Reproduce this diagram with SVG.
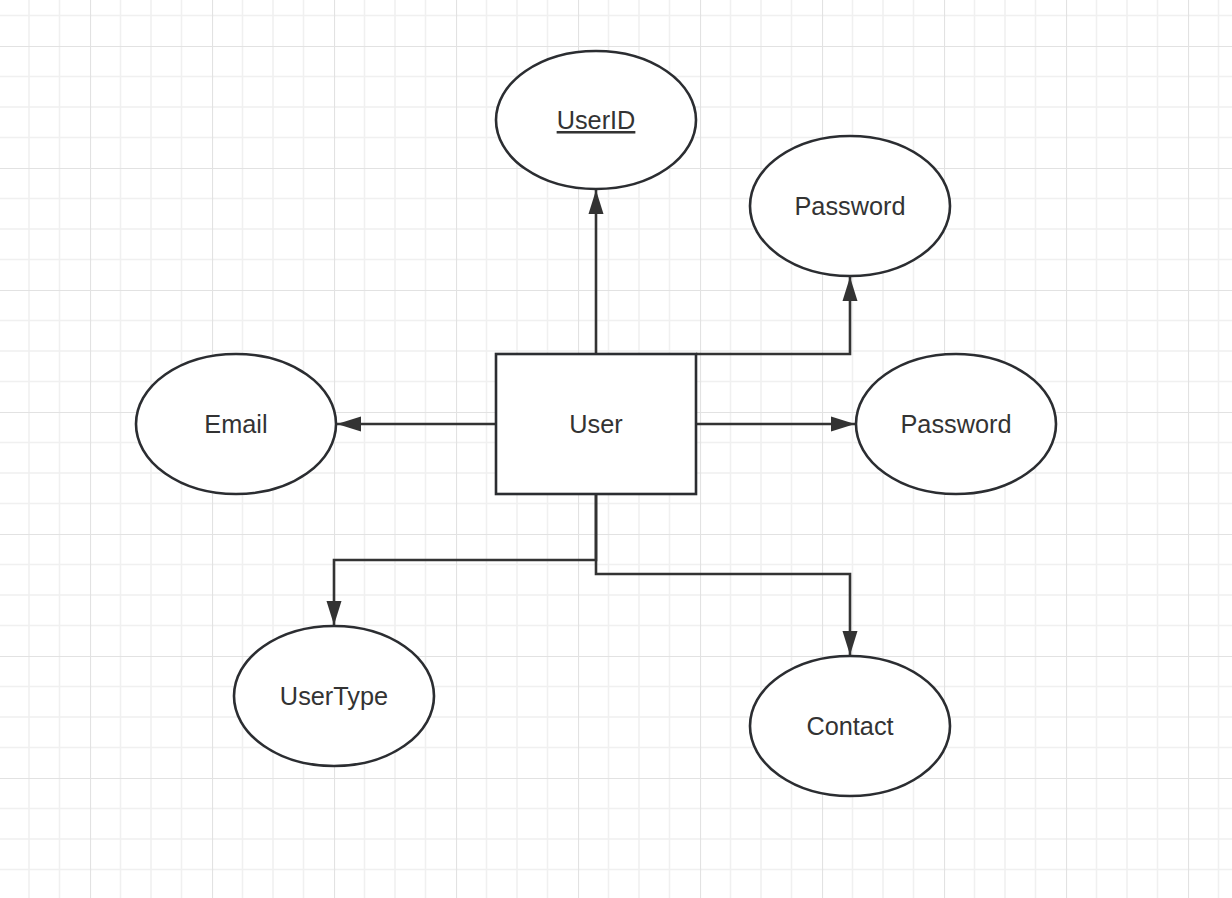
<svg xmlns="http://www.w3.org/2000/svg" width="1232" height="898" viewBox="0 0 1232 898">
<defs>
<pattern id="grid" x="90" y="46" width="122" height="122" patternUnits="userSpaceOnUse">
<path d="M30.5 0V122M61 0V122M91.5 0V122M0 30.5H122M0 61H122M0 91.5H122" stroke="#f0f0f0" stroke-width="1.6" fill="none"/>
<path d="M0 0V122M0 0H122" stroke="#e2e2e2" stroke-width="2.2" fill="none"/>
</pattern>
<marker id="arr" markerWidth="26" markerHeight="18" refX="24" refY="9" orient="auto" markerUnits="userSpaceOnUse">
<path d="M0 1.5L24 9L0 16.5z" fill="#333"/>
</marker>
<style>
.ent{fill:#fff;stroke:#2b2d31;stroke-width:2.6}
.conn{fill:none;stroke:#333;stroke-width:2.6;marker-end:url(#arr)}
.lbl{font-family:"Liberation Sans",Arial,sans-serif;font-size:25.3px;fill:#333;text-anchor:middle}
</style>
</defs>
<rect width="1232" height="898" fill="#fff"/>
<rect width="1232" height="898" fill="url(#grid)"/>
<g id="connectors">
<path class="conn" d="M596 354V190"/>
<path class="conn" d="M696 354H850V277"/>
<path class="conn" d="M496 424H337"/>
<path class="conn" d="M696 424H855"/>
<path class="conn" d="M596 494V560H334V625"/>
<path class="conn" d="M596 494V574H850V655"/>
</g>
<g id="user">
<rect class="ent" x="496" y="354" width="200" height="140"/>
<text class="lbl" x="596" y="433">User</text>
</g>
<g id="userid">
<ellipse class="ent" cx="596" cy="120" rx="100" ry="69"/>
<text class="lbl" x="596" y="129" text-decoration="underline">UserID</text>
</g>
<g id="password-top">
<ellipse class="ent" cx="850" cy="206" rx="100" ry="70"/>
<text class="lbl" x="850" y="215">Password</text>
</g>
<g id="email">
<ellipse class="ent" cx="236" cy="424" rx="100" ry="70"/>
<text class="lbl" x="236" y="433">Email</text>
</g>
<g id="password-right">
<ellipse class="ent" cx="956" cy="424" rx="100" ry="70"/>
<text class="lbl" x="956" y="433">Password</text>
</g>
<g id="usertype">
<ellipse class="ent" cx="334" cy="696" rx="100" ry="70"/>
<text class="lbl" x="334" y="705">UserType</text>
</g>
<g id="contact">
<ellipse class="ent" cx="850" cy="726" rx="100" ry="70"/>
<text class="lbl" x="850" y="735">Contact</text>
</g>
</svg>
